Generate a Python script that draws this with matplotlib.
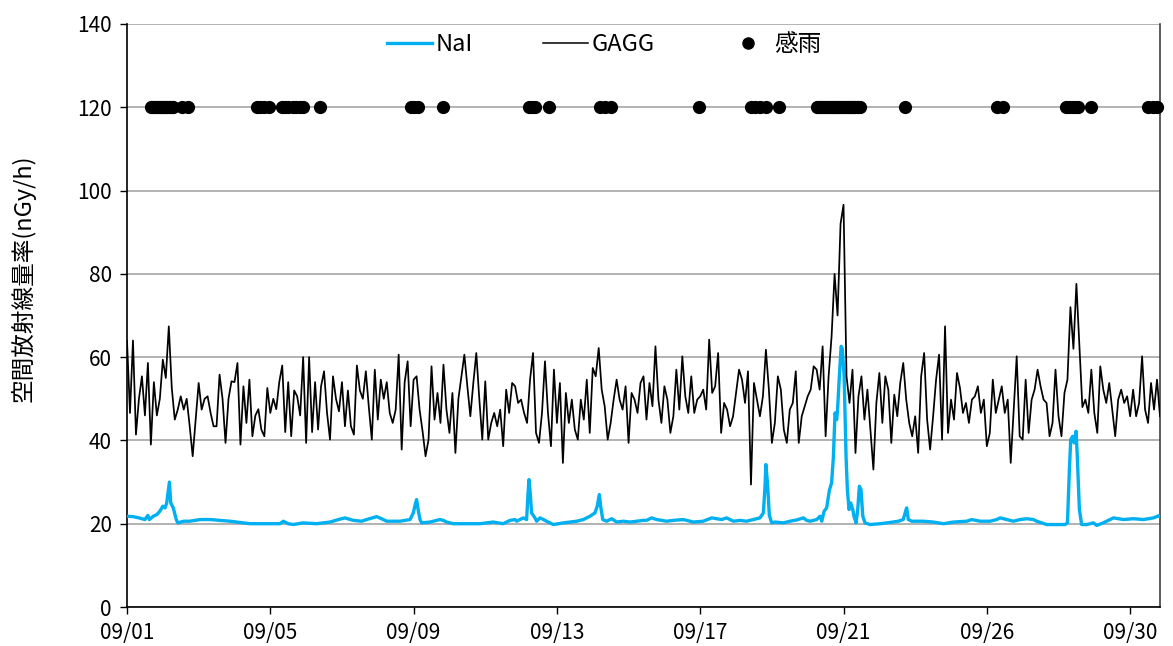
import numpy as np
import matplotlib
matplotlib.use("Agg")
import matplotlib.pyplot as plt
from matplotlib.lines import Line2D

plt.rcParams['font.family'] = ['Noto Sans CJK JP', 'DejaVu Sans']

# ---------------- data (hours from 09/01 00:00 on the category axis) ----------------
gagg_step = 2  # one GAGG reading every 2 hours
gagg = [
    # 09/01 - 09/04
    64, 46.6, 64, 41.4, 50, 55.4, 46, 58.6, 39, 54, 46, 50, 59.4, 55, 67.4, 52.6, 45, 47.4,
    50.6, 47.4, 50, 43.4, 36.2, 45, 53.8, 47.4, 50, 50.6, 46.6, 43.4, 43.4, 55.8, 50, 39.4,
    50, 54.2, 54, 58.6, 39, 53, 44.2, 54.6, 41,
    # 09/04 - 09/08
    46, 47.5, 42.6, 41, 52.6, 46.6, 50, 47.5, 54, 58, 42, 54, 41, 52, 50.6, 46, 60, 39.4,
    60, 42, 54, 42.6, 53, 56.6, 46.6, 40.2, 55.4, 50, 47, 54, 43.4, 52, 43.4, 41.4, 58, 52,
    50, 56.6, 48, 40.2, 57, 45, 54.6, 50,
    # 09/08 - 09/11
    54, 46.6, 44.2, 47.4, 60.6, 37.8, 54, 59, 43.4, 54.6, 55.4, 47.4, 42.2, 36.2, 40.2, 57.8,
    45, 51.4, 44.2, 58.2, 47.4, 41.8, 51.4, 37, 50, 55.4, 60.6, 53, 45.8, 53.8, 61, 50, 40.2,
    54.2, 40.2, 44.2, 46.6, 43.4, 47.4, 38.6, 52.2, 46.6, 53.8,
    # 09/11 - 09/15
    53, 49, 49.8, 46.6, 44.2, 54.6, 61, 41.8, 39.4, 46.6, 59, 46.6, 38.6, 57, 44.2, 53.8,
    34.6, 51.4, 44.2, 49.8, 42.6, 40.2, 49.8, 45, 54.6, 41.8, 57.4, 55.4, 62.2, 52.2, 48.2,
    40.2, 44.2, 49.8, 54.6, 49.8, 47.4, 53, 39.4, 51.4, 49.8, 46.6, 53.8, 55.4,
    # 09/15 - 09/19
    45, 53.8, 48.2, 62.6, 49.8, 44.2, 53, 49.8, 41.8, 45.8, 57, 47.4, 60.2, 50.6, 46.6, 55.4,
    46.6, 49.8, 50.6, 52.2, 47.4, 64.2, 51.4, 53, 61, 41.8, 49, 47.4, 43.4, 45.8, 51.4, 57,
    54.6, 49, 56.6, 29.4, 53.8, 49.8, 45.8, 50.6, 61.8, 52.2, 39.4, 44.2,
    # 09/19 - 09/22
    55.4, 52.2, 42.6, 39.4, 47.4, 49, 56.6, 39.4, 45.8, 48.2, 50.6, 52.2, 57.8, 57, 52.2,
    62.6, 41, 55.4, 65, 80, 70, 92, 96.6, 55.4, 49, 57, 37, 50.6, 55.4, 45, 52.2, 42.6, 33,
    49, 56.2, 44.2, 55.4, 52.2, 39.4, 51, 45.8, 53.8, 58.6,
    # 09/22 - 09/26
    49.8, 44.2, 41, 45.8, 37, 55.4, 61, 45, 37.8, 45.8, 54.6, 60.6, 40.2, 67.4, 41.8, 49.8,
    45, 56.2, 52.6, 46.6, 49, 44.2, 49.8, 50.6, 53, 46.6, 49.8, 38.6, 41.8, 54.6, 46.6, 49.8,
    53, 46.6, 49.8, 34.6, 47.4, 60.2, 41, 40.2, 54.6, 41.8, 49.8,
    # 09/26 - 09/30
    52.2, 57, 53, 49.8, 49, 41, 44.2, 57, 45.8, 41, 51.4, 54.6, 72, 62, 77.6, 63, 48, 49.8,
    46.6, 57, 46.6, 41.8, 57.8, 52.2, 49, 53.8, 47.4, 41, 49.8, 52.2, 49, 50.6, 45.8, 52.2,
    45.8, 49, 60.2, 47.4, 44.2, 53.8, 47.4, 54.6, 45.8,
]

nai_hours = [
    0, 4, 8, 12, 14, 15, 17.6, 20, 22, 24, 25.5, 26.6, 28.4, 29.3, 31, 33, 34, 38, 42, 49, 56,
    62, 69, 78, 82.4, 93.6, 102.5, 104.7, 108, 111.4, 118, 127, 136, 141.6, 146, 151.6, 157.2,
    160.5, 167.3, 171.7, 174, 183, 189.6, 191.8, 193, 194, 195.2, 196.3, 197.4, 203, 209.7,
    212, 214, 218.6, 227.6, 236.5, 245.4, 252, 256.6, 260, 261, 265.5, 267.7, 268.6, 269.3,
    270.2, 271, 273.3, 274.4, 276.7, 279, 281, 285.6, 292.3, 296.8, 301.3, 305.7, 310.2,
    313.5, 315, 316.4, 317.3, 318.7, 321.3, 324.7, 328, 332.5, 337, 341.4, 345.9, 348, 351.5,
    354.8, 361.5, 366, 372.7, 379.4, 386, 391.7, 395, 398.4, 401.7, 406.2, 410.7, 415, 419.6,
    424, 426.3, 427.4, 428, 429.2, 430.3, 431.9, 434.1, 439.7, 444.2, 448.6, 453.1, 455.3,
    457.6, 462, 464.3, 465.4, 467, 468.7, 470.5, 472, 473.2, 474.3, 475.4, 476, 477.2, 478.4,
    479.2, 480.4, 481.7, 482.6, 483.7, 484.8, 486.2, 487, 488.4, 489.5, 490.6, 491.7, 492.9,
    494.4, 497.8, 504.5, 511.2, 516.7, 520, 521.9, 522.3, 523.4, 525.7, 533.5, 540.2, 547,
    553.6, 562.5, 565.9, 571.5, 578.2, 582.6, 584.9, 589.3, 593.8, 598.3, 602.7, 607.2,
    609.4, 616.1, 622.8, 628.4, 630, 631.3, 632.2, 633.5, 634.6, 635.8, 636.6, 638, 639.5,
    642.9, 647.4, 649.6, 654, 660.8, 667.5, 674.2, 680.9, 687.6, 691, 692,
]
nai = [
    21.8, 21.7, 21.4, 21.0, 22.0, 21.0, 21.8, 22.2, 23.0, 24.2, 23.8, 25.0, 30.0, 25.0, 23.8,
    21.0, 20.2, 20.6, 20.6, 21.0, 21.0, 20.8, 20.6, 20.2, 20.0, 20.0, 20.0, 20.6, 20.0, 19.8,
    20.2, 20.0, 20.4, 21.0, 21.4, 20.8, 20.6, 21.0, 21.7, 21.0, 20.6, 20.6, 21.0, 22.6, 24.5,
    25.8, 23.0, 21.0, 20.2, 20.4, 21.0, 20.8, 20.4, 20.0, 20.0, 20.0, 20.4, 20.0, 20.8, 21.0,
    20.6, 21.4, 21.0, 27.0, 30.6, 27.0, 22.6, 21.4, 20.6, 21.4, 21.0, 20.6, 19.8, 20.2, 20.4,
    20.6, 21.0, 21.8, 22.6, 24.2, 27.0, 24.2, 21.0, 20.6, 21.2, 20.4, 20.6, 20.4, 20.6, 20.8,
    20.8, 21.4, 21.0, 20.6, 20.8, 21.0, 20.4, 20.6, 21.4, 21.2, 21.0, 21.4, 20.6, 20.8, 20.6,
    21.0, 21.4, 22.6, 29.0, 34.2, 29.0, 22.0, 20.2, 20.4, 20.2, 20.6, 20.9, 21.4, 20.8, 20.6,
    21.0, 21.8, 20.6, 23.0, 23.8, 28.0, 29.8, 36.0, 46.6, 45.0, 47.4, 55.4, 62.6, 62.0, 55.4,
    36.0, 28.0, 23.4, 25.0, 23.4, 21.8, 20.2, 23.4, 29.0, 28.2, 21.8, 20.2, 19.8, 20.0, 20.3,
    20.6, 21.0, 23.4, 23.8, 21.0, 20.6, 20.6, 20.4, 20.0, 20.4, 20.6, 21.0, 20.6, 20.6, 21.0,
    21.4, 21.0, 20.6, 21.0, 21.2, 21.0, 20.6, 19.8, 19.8, 19.8, 20.2, 33.0, 40.2, 41.0, 39.4,
    42.2, 36.0, 23.4, 19.8, 19.8, 20.2, 19.6, 20.2, 21.4, 21.0, 21.2, 21.0, 21.4, 21.9, 21.7,
]

rain_hours = (
    [16, 17, 18, 19, 20, 21, 22, 23, 24, 25, 26, 27, 28, 29, 30, 31, 37, 41]
    + [87, 89, 92, 95, 104, 106, 108, 111, 113, 116, 118, 129]
    + [190, 192, 195, 212]
    + [269, 271, 273, 283]
    + [317, 320, 324]
    + [383]
    + [418, 421, 424, 428, 437]
    + [462, 463, 464, 465, 466, 467, 468, 469, 470, 471, 472, 473, 474, 475, 476, 477, 478,
       479, 480, 481, 482, 483, 484, 485, 486, 487, 488, 489, 490, 491]
    + [521]
    + [583, 587]
    + [629, 631, 633, 635, 637, 646]
    + [684, 687, 690]
)
rain_level = 120

tick_hours = [0, 96, 192, 288, 384, 480, 576, 672]
tick_labels = ['09/01', '09/05', '09/09', '09/13', '09/17', '09/21', '09/26', '09/30']
x_end = 692

# ---------------- figure ----------------
W, H = 1173, 646
fig = plt.figure(figsize=(W / 100, H / 100), dpi=100)
ax = fig.add_axes([127 / W, 1 - 607 / H, (1160 - 127) / W, (607 - 24) / H])

gagg_hours = np.arange(len(gagg)) * gagg_step

nai_color = '#00B0F0'
ax.plot(nai_hours, nai, color=nai_color, lw=2.4, solid_joinstyle='round', zorder=3)
ax.plot(gagg_hours, gagg, color='black', lw=1.25, zorder=4)
ax.plot(rain_hours, [rain_level] * len(rain_hours), 'o', color='black', ms=8.5,
        ls='none', zorder=5, clip_on=False)

ax.set_xlim(0, x_end)
ax.set_ylim(0, 140)
ax.set_yticks(range(0, 141, 20))
ax.set_xticks(tick_hours)
ax.set_xticklabels(tick_labels)
ax.yaxis.grid(True, color='#A6A6A6', lw=1.2)
ax.set_axisbelow(True)

for s in ['left', 'bottom']:
    ax.spines[s].set_color('black')
    ax.spines[s].set_linewidth(1.2)
ax.spines['top'].set_visible(False)
ax.spines['right'].set_color('#404040')
ax.spines['right'].set_linewidth(1.2)

ax.tick_params(axis='both', labelsize=15, length=5, width=1.0, direction='out', color='black')
ax.tick_params(axis='y', pad=6)
ax.tick_params(axis='x', pad=6)

ax.set_ylabel('空間放射線量率(nGy/h)', fontsize=17)
ax.yaxis.set_label_coords(-0.089, 0.564)

handles = [
    Line2D([], [], color=nai_color, lw=2.4),
    Line2D([], [], color='black', lw=1.1),
    Line2D([], [], color='black', marker='o', ms=8, ls='none'),
]
ax.legend(handles, ['NaI', 'GAGG', '感雨'], loc='center', bbox_to_anchor=(0.462, 0.964),
          ncol=3, frameon=False, fontsize=17, handlelength=1.9, handletextpad=0.15,
          columnspacing=3.0, borderaxespad=0)

fig.savefig('out.png', dpi=100)
